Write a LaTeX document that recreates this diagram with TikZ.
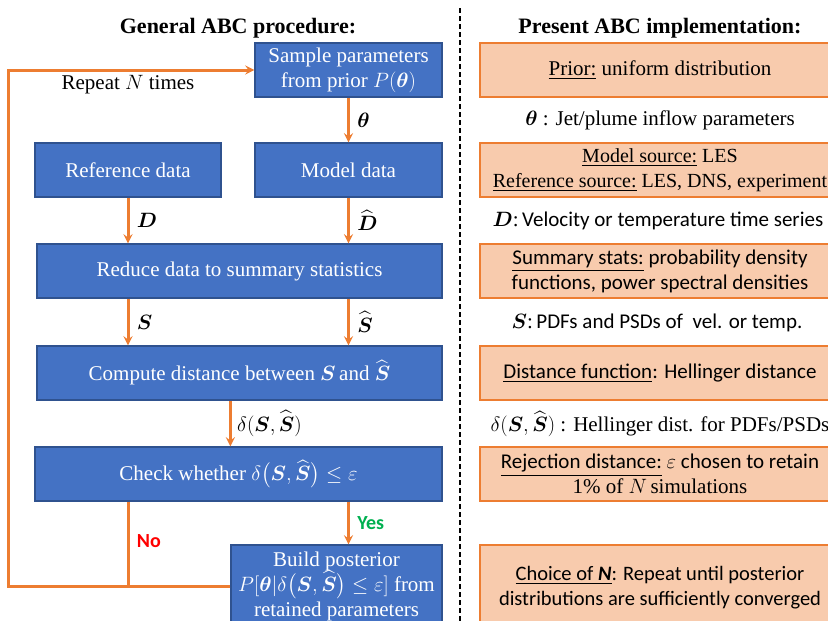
\documentclass[tikz,border=0pt]{standalone}
\usepackage{amsmath}
\usepackage{amssymb}
\usepackage{fontspec}
\setmainfont{Liberation Serif}
\newfontfamily\calfont{Carlito}
\usetikzlibrary{calc}

\definecolor{boxblue}{HTML}{4472C4}
\definecolor{edgeblue}{HTML}{2F528F}
\definecolor{arrorange}{HTML}{ED7D31}
\definecolor{peach}{HTML}{F8CBAD}
\definecolor{yesgreen}{HTML}{00B050}
\definecolor{nored}{HTML}{FF0000}

\newcommand{\Sb}{\boldsymbol{S}}
\newcommand{\Sh}{\widehat{\boldsymbol{S}}}

\tikzset{
  stepbox/.style={draw=edgeblue, fill=boxblue, line width=1.2pt, text=white,
    align=center, inner sep=0pt, minimum height=54pt,
    font=\fontsize{21}{25}\selectfont},
  implbox/.style={draw=arrorange, fill=peach, line width=1.2pt,
    align=center, inner sep=0pt, minimum width=360pt, minimum height=54pt,
    font=\fontsize{21}{25}\selectfont},
  flow/.style={draw=arrorange, line width=3pt},
  lbl/.style={font=\fontsize{21}{25}\selectfont},
  head/.style={font=\bfseries\fontsize{22}{26}\selectfont}
}

\begin{document}
\begin{tikzpicture}[x=1pt,y=-1pt]
  \useasboundingbox (0,0) rectangle (828,621);
  \clip (0,0) rectangle (828,621);

  % column heads and separator
  \node[head] (lefthead) at (238,28) {General ABC procedure:};
  \node[head] (righthead) at (660,28) {Present ABC implementation:};
  \coordinate (septop) at (460,8);
  \coordinate (sepbot) at (460,621);
  \draw[line width=1.5pt, dash pattern=on 5pt off 3pt] (septop) -- (sepbot);

  % procedure (left)
  \node[stepbox, minimum width=187pt] (sample) at (348.5,70)
    {Sample parameters\\from prior $P(\boldsymbol{\theta})$};
  \node[stepbox, minimum width=186pt] (refdata) at (128,170) {Reference data};
  \node[stepbox, minimum width=187pt] (moddata) at (348.5,170) {Model data};
  \node[stepbox, minimum width=405pt] (reduce) at (239.5,271)
    {Reduce data to summary statistics};
  \node[stepbox, minimum width=405pt] (compute) at (239.5,373)
    {Compute distance between $\Sb$\,and $\Sh$};
  \node[stepbox, minimum width=407pt] (check) at (238.5,474)
    {Check whether $\delta\bigl(\Sb,\Sh\bigr)\leq\varepsilon$};
  \node[stepbox, minimum width=211pt, minimum height=82pt] (build) at (336.5,586)
    {Build posterior\\$P[\boldsymbol{\theta}|\delta\bigl(\Sb,\Sh\bigr)\leq\varepsilon]$ from\\retained parameters};

  % arrows between steps
  \draw[flow,-stealth] (sample) -- (moddata)
    node[midway,right,lbl,xshift=4pt] {$\boldsymbol{\theta}$};
  \draw[flow,-stealth] (refdata) -- (refdata |- reduce.north)
    node[midway,right,lbl,xshift=4pt] {$\boldsymbol{D}$};
  \draw[flow,-stealth] (moddata) -- (moddata |- reduce.north)
    node[midway,right,lbl,xshift=4pt] {$\widehat{\boldsymbol{D}}$};
  \draw[flow,-stealth] (reduce.south -| refdata) -- (compute.north -| refdata)
    node[midway,right,lbl,xshift=4pt] {$\Sb$};
  \draw[flow,-stealth] (reduce.south -| moddata) -- (compute.north -| moddata)
    node[midway,right,lbl,xshift=4pt] {$\Sh$};
  \draw[flow,-stealth] (compute.south -| build.west) -- (check.north -| build.west)
    node[midway,right,lbl,xshift=2pt] {$\delta(\Sb,\Sh)$};
  \draw[flow,-stealth] (check.south -| moddata) -- (build.north -| moddata)
    node[midway,right,xshift=4pt,font=\calfont\bfseries\fontsize{20}{24}\selectfont,
      text=yesgreen] {Yes};
  \draw[flow] (check.south -| refdata) -- (refdata |- build.west)
    node[pos=0.47,right,xshift=4pt,font=\calfont\bfseries\fontsize{20}{24}\selectfont,
      text=nored] {No};

  % loop back to the prior
  \coordinate (loopbot) at (8,586);
  \coordinate (looptop) at (8,70);
  \draw[flow,-stealth] (build.west) -- (loopbot) -- (looptop) -- (sample.west);
  \node[lbl] (repeat) at (128,85) {Repeat $N$ times};

  % implementation (right)
  \node[implbox] (prior) at (660,70) {\underline{Prior:} uniform distribution};
  \node[lbl] (thetainfo) at (660,120) {$\boldsymbol{\theta}$ : Jet/plume inflow parameters};
  \node[implbox, font=\fontsize{20}{25}\selectfont] (source) at (660,170)
    {\underline{Model source:} LES\\\underline{Reference source:} LES, DNS, experiment};
  \node[lbl] (datainfo) at (658,221)
    {$\boldsymbol{D}$:\,{\calfont Velocity or temperature time series}};
  \node[implbox, font=\calfont\fontsize{21}{25}\selectfont] (stats) at (660,271)
    {\underline{Summary stats:} probability density\\functions, power spectral densities};
  \node[lbl] (statsinfo) at (657,323)
    {$\Sb$:\,{\calfont PDFs and PSDs of\ \ vel. or temp.}};
  \node[implbox, font=\calfont\fontsize{21}{25}\selectfont] (dist) at (660,373)
    {\underline{Distance function}: Hellinger distance};
  \node[lbl] (distinfo) at (660,424)
    {$\delta(\Sb,\Sh)$ : Hellinger dist. for PDFs/PSDs};
  \node[implbox] (reject) at (660,474)
    {{\calfont\underline{Rejection distance:} $\varepsilon$ chosen to retain}\\1\% of $N$\,simulations};
  \node[implbox, minimum height=86pt, font=\calfont\fontsize{20.5}{25}\selectfont] (choice) at (660,588)
    {\underline{Choice of \textbf{\textit{N}}}: Repeat until posterior\\distributions are sufficiently converged};
\end{tikzpicture}
\end{document}
